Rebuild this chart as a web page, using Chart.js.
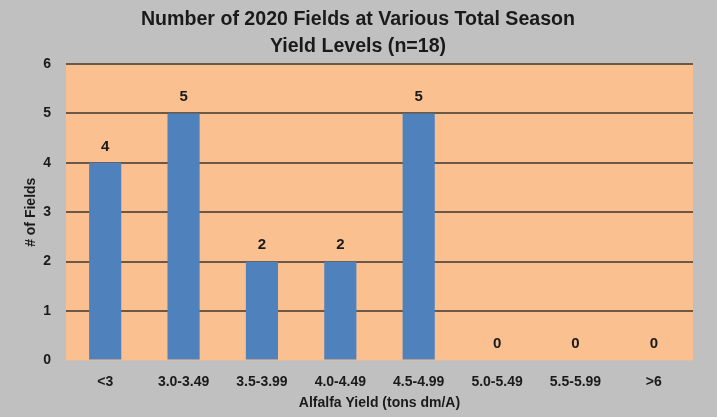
<!DOCTYPE html>
<html>
<head>
<meta charset="utf-8">
<script src="https://cdn.jsdelivr.net/npm/chart.js@4/dist/chart.umd.min.js"></script>
<style>
  html, body { margin: 0; padding: 0; background: #c0c0c0; }
  #wrap { width: 717px; height: 417px; }
</style>
</head>
<body>
<div id="wrap"><canvas id="yieldChart"></canvas></div>
<script>
// data
var categories = ['<3', '3.0-3.49', '3.5-3.99', '4.0-4.49', '4.5-4.99', '5.0-5.49', '5.5-5.99', '>6'];
var fieldCounts = [4, 5, 2, 2, 5, 0, 0, 0];
var yTicks = [0, 1, 2, 3, 4, 5, 6];

// orange plot background
var plotBg = {
  id: 'plotBg',
  beforeDraw: function(chart) {
    var a = chart.chartArea, ctx = chart.ctx;
    ctx.save();
    ctx.fillStyle = '#fac090';
    ctx.fillRect(a.left, a.top, a.right - a.left, a.bottom - a.top);
    ctx.restore();
  }
};

// value labels above bars
var barLabels = {
  id: 'barLabels',
  afterDatasetsDraw: function(chart) {
    var ctx = chart.ctx;
    var meta = chart.getDatasetMeta(0);
    ctx.save();
    ctx.font = 'bold 15px "Liberation Sans"';
    ctx.fillStyle = '#1a1a1a';
    ctx.textAlign = 'center';
    ctx.textBaseline = 'bottom';
    meta.data.forEach(function(bar, i) {
      ctx.fillText(fieldCounts[i], bar.x, bar.y - 9);
    });
    ctx.restore();
  }
};

var ctx = document.getElementById('yieldChart').getContext('2d');
var myChart = new Chart(ctx, {
  type: 'bar',
  data: {
    labels: categories,
    datasets: [{
      data: fieldCounts,
      backgroundColor: '#4f81bd',
      categoryPercentage: 1.0,
      barPercentage: 0.41
    }]
  },
  options: {
    responsive: true,
    maintainAspectRatio: false,
    animation: false,
    layout: { padding: { left: 23, right: 24, top: 4, bottom: 5 } },
    plugins: {
      legend: { display: false },
      tooltip: { enabled: false },
      title: {
        display: true,
        text: ['Number of 2020 Fields at Various Total Season', 'Yield Levels (n=18)'],
        color: '#1a1a1a',
        font: { family: '"Liberation Sans"', size: 19.6, weight: 'bold', lineHeight: 1.38 },
        padding: { top: 2, bottom: 4 }
      }
    },
    scales: {
      x: {
        grid: { display: false },
        border: { display: false },
        ticks: {
          color: '#1a1a1a',
          font: { family: '"Liberation Sans"', size: 14, weight: 'bold' },
          padding: 5,
          maxRotation: 0
        },
        title: {
          display: true,
          text: 'Alfalfa Yield (tons dm/A)',
          color: '#1a1a1a',
          font: { family: '"Liberation Sans"', size: 14, weight: 'bold' },
          padding: { top: 0, bottom: 0 }
        }
      },
      y: {
        min: 0,
        max: 6,
        afterBuildTicks: function(axis) {
          axis.ticks = yTicks.map(function(v) { return { value: v }; });
        },
        afterFit: function(axis) {
          axis.width = 43;
        },
        grid: {
          color: function(c) { return c.tick.value === 0 ? 'rgba(0,0,0,0)' : '#6b5847'; },
          lineWidth: 2,
          drawTicks: false
        },
        border: { display: false },
        ticks: {
          color: '#1a1a1a',
          font: { family: '"Liberation Sans"', size: 14, weight: 'bold' },
          padding: 15
        },
        title: {
          display: true,
          text: '# of Fields',
          color: '#1a1a1a',
          font: { family: '"Liberation Sans"', size: 14, weight: 'bold' },
          padding: { top: 0, bottom: 4 }
        }
      }
    }
  },
  plugins: [plotBg, barLabels]
});
</script>
</body>
</html>
